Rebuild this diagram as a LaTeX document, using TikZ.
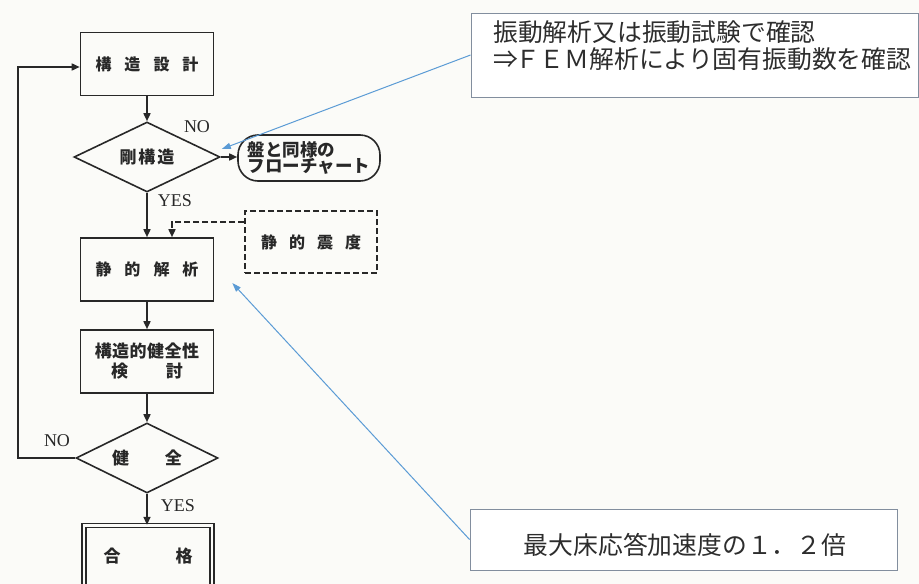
\documentclass[tikz,border=0pt]{standalone}
\usepackage{fontspec}
\setmainfont{Liberation Serif}
\newfontfamily\jp{Noto Sans CJK JP}
\usetikzlibrary{shapes.geometric,arrows.meta,calc}
\definecolor{bgc}{RGB}{251,251,248}
\definecolor{ink}{RGB}{40,40,40}
\definecolor{cbord}{RGB}{130,142,158}
\definecolor{cblue}{RGB}{91,155,213}
\definecolor{ctext}{RGB}{45,45,45}
\begin{document}
\begin{tikzpicture}[x=1pt,y=-1pt,
  box/.style={draw=ink,line width=1.6pt,rectangle,inner sep=0pt,
    minimum width=133pt,minimum height=63pt,
    font=\jp\bfseries\fontsize{16}{20}\selectfont,text=ink,align=center},
  dec/.style={draw=ink,line width=1.6pt,diamond,aspect=2.1,inner sep=0pt,
    font=\jp\bfseries\fontsize{17}{20}\selectfont,text=ink},
  arr/.style={draw=ink,line width=1.6pt,-{Triangle[length=8pt,width=7pt]}},
  dasharr/.style={draw=ink,line width=1.6pt,dash pattern=on 6pt off 3pt,
    -{Triangle[length=8pt,width=7pt]}},
  lab/.style={font=\fontsize{18}{18}\selectfont,text=ink,inner sep=0pt},
  callout/.style={draw=cbord,line width=0.9pt,rectangle,inner sep=0pt,fill=white},
  ctxt/.style={font=\jp\fontsize{24.8}{27}\selectfont,text=ctext,inner sep=0pt,align=left},
  pointer/.style={draw=cblue,line width=1pt,-{Triangle[length=9pt,width=6pt]}}
]
\useasboundingbox (0,0) rectangle (919,584);
\fill[bgc] (0,0) rectangle (919,584);

% flowchart nodes
\node[box] (d1) at (147,64) {構\kern13pt 造\kern13pt 設\kern13pt 計};
\node[dec,minimum width=146pt,minimum height=70pt] (q1) at (147,157) {剛\kern2pt 構\kern2pt 造};
\node[draw=ink,line width=1.6pt,rectangle,rounded corners=20pt,inner sep=0pt,
      minimum width=142pt,minimum height=46pt,align=left,text=ink,
      font=\jp\bfseries\fontsize{17.5}{16}\selectfont] (r1) at (309,158) {盤と同様の\\フローチャート};
\node[box] (d2) at (147,269.5) {静\kern13pt 的\kern13pt 解\kern13pt 析};
\node[box,dash pattern=on 6pt off 3pt,minimum width=132pt,minimum height=62pt] (sd) at (311,242) {静\kern12pt 的\kern12pt 震\kern12pt 度};
\node[box,font=\jp\bfseries\fontsize{17}{20}\selectfont] (d3) at (147,361.5) {構\kern0.5pt 造\kern0.5pt 的\kern0.5pt 健\kern0.5pt 全\kern0.5pt 性\\検\kern38pt 討};
\node[dec,minimum width=142pt,minimum height=70pt] (q2) at (147,458) {健\kern36pt 全};
\node[box,double=bgc,double distance=2.5pt,line width=1.3pt,
      minimum width=128pt,minimum height=61pt,font=\jp\bfseries\fontsize{17}{20}\selectfont] (ok) at (148,556) {合\kern55pt 格};

% labels
\node[lab] (no1) at (197,127) {NO};
\node[lab] (yes1) at (175,201) {YES};
\node[lab] (no2) at (57,441) {NO};
\node[lab] (yes2) at (178,506) {YES};

% connectors
\draw[arr] (d1.south) -- (d1.south |- q1.north);
\draw[arr] (q1.east) -- (q1.east -| r1.west);
\draw[arr] (q1.south) -- (q1.south |- d2.north);
\draw[dasharr] ($(sd.north west)+(0,12)$) -| ($(d2.north)+(25,0)$);
\draw[arr] (d2.south) -- (d2.south |- d3.north);
\draw[arr] (d3.south) -- (d3.south |- q2.north);
\draw[arr] (q2.south) -- (q2.south |- ok.north);
\coordinate (lp) at (18,458);
\draw[arr] (q2.west) -- (lp) |- ($(d1.west)+(0,3)$);

% callouts
\node[callout,minimum width=447pt,minimum height=84pt] (c1) at (694.5,55) {};
\node[ctxt,anchor=west] (c1t) at (493,46) {振動解析又は振動試験で確認\\⇒\kern-3pt ＦＥＭ解析により固有振動数を確認};
\node[callout,minimum width=427pt,minimum height=61pt] (c2) at (683.5,539.5) {};
\node[ctxt] (c2t) at (685,545) {最大床応答加速度の１．２倍};

\coordinate (t1) at ($(q1.east)+(1,-8)$);
\coordinate (t2) at ($(d2.east)+(18,13.5)$);
\draw[pointer] (c1.west) -- (t1);
\draw[pointer] (c2.west) -- (t2);
\end{tikzpicture}
\end{document}
